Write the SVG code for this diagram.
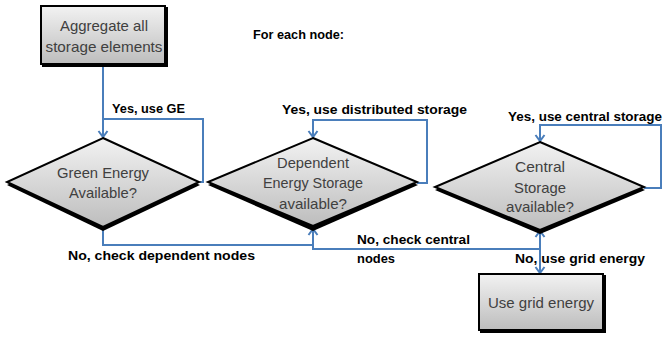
<svg xmlns="http://www.w3.org/2000/svg" width="665" height="337" viewBox="0 0 665 337">
  <defs>
    <linearGradient id="fillGrad" x1="0" y1="0" x2="0" y2="1">
      <stop offset="0" stop-color="#f2f2f2"/>
      <stop offset="1" stop-color="#bdbdbd"/>
    </linearGradient>
    <marker id="arrow" markerUnits="userSpaceOnUse" markerWidth="12" markerHeight="12" viewBox="0 0 12 12" refX="10" refY="6" orient="auto">
      <path d="M4,1.5 L10,6 L4,10.5" fill="none" stroke="#4a7ebb" stroke-width="2"/>
    </marker>
    <style>
      .shape { fill: url(#fillGrad); stroke: #000; stroke-width: 2; stroke-linejoin: miter; }
      .shadow { fill: #000; }
      .node-text { font-family: "Liberation Sans", Arial, sans-serif; font-size: 15px; fill: #404040; text-anchor: middle; }
      .label { font-family: "Liberation Sans", Arial, sans-serif; font-size: 13px; font-weight: bold; fill: #000; }
      .conn { fill: none; stroke: #4a7ebb; stroke-width: 2; }
    </style>
  </defs>

  <rect width="665" height="337" fill="#fff"/>

  <!-- connectors -->
  <g id="connectors">
    <path class="conn" d="M103,65 V137" marker-end="url(#arrow)"/>
    <path class="conn" d="M200,182 H203 V119 H103"/>
    <path class="conn" d="M417,183 H427 V120 H313 V137" marker-end="url(#arrow)"/>
    <path class="conn" d="M644,188 H661 V125 H540 V141" marker-end="url(#arrow)"/>
    <path class="conn" d="M103,228 V245 H313 V229" marker-end="url(#arrow)"/>
    <path class="conn" d="M313,228 V249 H540 V231" marker-end="url(#arrow)"/>
    <path class="conn" d="M540,231 V273" marker-end="url(#arrow)"/>
  </g>

  <!-- start box -->
  <g id="aggregate">
    <rect class="shadow" x="42" y="7" width="126" height="60"/>
    <rect class="shape" x="41" y="6" width="124" height="58"/>
    <text class="node-text" x="104" y="31" textLength="88" lengthAdjust="spacingAndGlyphs">Aggregate all</text>
    <text class="node-text" x="104" y="52" textLength="117" lengthAdjust="spacingAndGlyphs">storage elements</text>
  </g>

  <!-- decision: green energy -->
  <g id="green-energy">
    <polygon class="shadow" points="103,139 200,185 103,231 7,185"/>
    <polygon class="shape" points="103,138 199,182 103,227 7,182"/>
    <text class="node-text" x="103" y="178" textLength="92" lengthAdjust="spacingAndGlyphs">Green Energy</text>
    <text class="node-text" x="103" y="198" textLength="68" lengthAdjust="spacingAndGlyphs">Available?</text>
  </g>

  <!-- decision: dependent storage -->
  <g id="dependent-storage">
    <polygon class="shadow" points="313,139 418,185 313,231 208,185"/>
    <polygon class="shape" points="313,138 417,182 313,226 208,182"/>
    <text class="node-text" x="313" y="168" textLength="72" lengthAdjust="spacingAndGlyphs">Dependent</text>
    <text class="node-text" x="313" y="188" textLength="100" lengthAdjust="spacingAndGlyphs">Energy Storage</text>
    <text class="node-text" x="313" y="209" textLength="68" lengthAdjust="spacingAndGlyphs">available?</text>
  </g>

  <!-- decision: central storage -->
  <g id="central-storage">
    <polygon class="shadow" points="540,143 645,190 540,234 435,190"/>
    <polygon class="shape" points="540,142 644,187 540,230 435,187"/>
    <text class="node-text" x="540" y="172" textLength="50" lengthAdjust="spacingAndGlyphs">Central</text>
    <text class="node-text" x="540" y="193" textLength="52" lengthAdjust="spacingAndGlyphs">Storage</text>
    <text class="node-text" x="540" y="212" textLength="68" lengthAdjust="spacingAndGlyphs">available?</text>
  </g>

  <!-- end box -->
  <g id="grid-energy">
    <rect class="shadow" x="480" y="275" width="126" height="58"/>
    <rect class="shape" x="479" y="274" width="124" height="56"/>
    <text class="node-text" x="541" y="308" textLength="106" lengthAdjust="spacingAndGlyphs">Use grid energy</text>
  </g>

  <!-- labels -->
  <g id="labels">
    <text class="label" x="253" y="39" font-size="11" textLength="91" lengthAdjust="spacingAndGlyphs">For each node:</text>
    <text class="label" x="112" y="113" textLength="73" lengthAdjust="spacingAndGlyphs">Yes, use GE</text>
    <text class="label" x="282" y="114" textLength="185" lengthAdjust="spacingAndGlyphs">Yes, use distributed storage</text>
    <text class="label" x="508" y="121" textLength="154" lengthAdjust="spacingAndGlyphs">Yes, use central storage</text>
    <text class="label" x="68" y="260" textLength="187" lengthAdjust="spacingAndGlyphs">No, check dependent nodes</text>
    <text class="label" x="357" y="244" textLength="113" lengthAdjust="spacingAndGlyphs">No, check central</text>
    <text class="label" x="357" y="263" textLength="38" lengthAdjust="spacingAndGlyphs">nodes</text>
    <text class="label" x="515" y="263" textLength="130" lengthAdjust="spacingAndGlyphs">No, use grid energy</text>
  </g>
</svg>
